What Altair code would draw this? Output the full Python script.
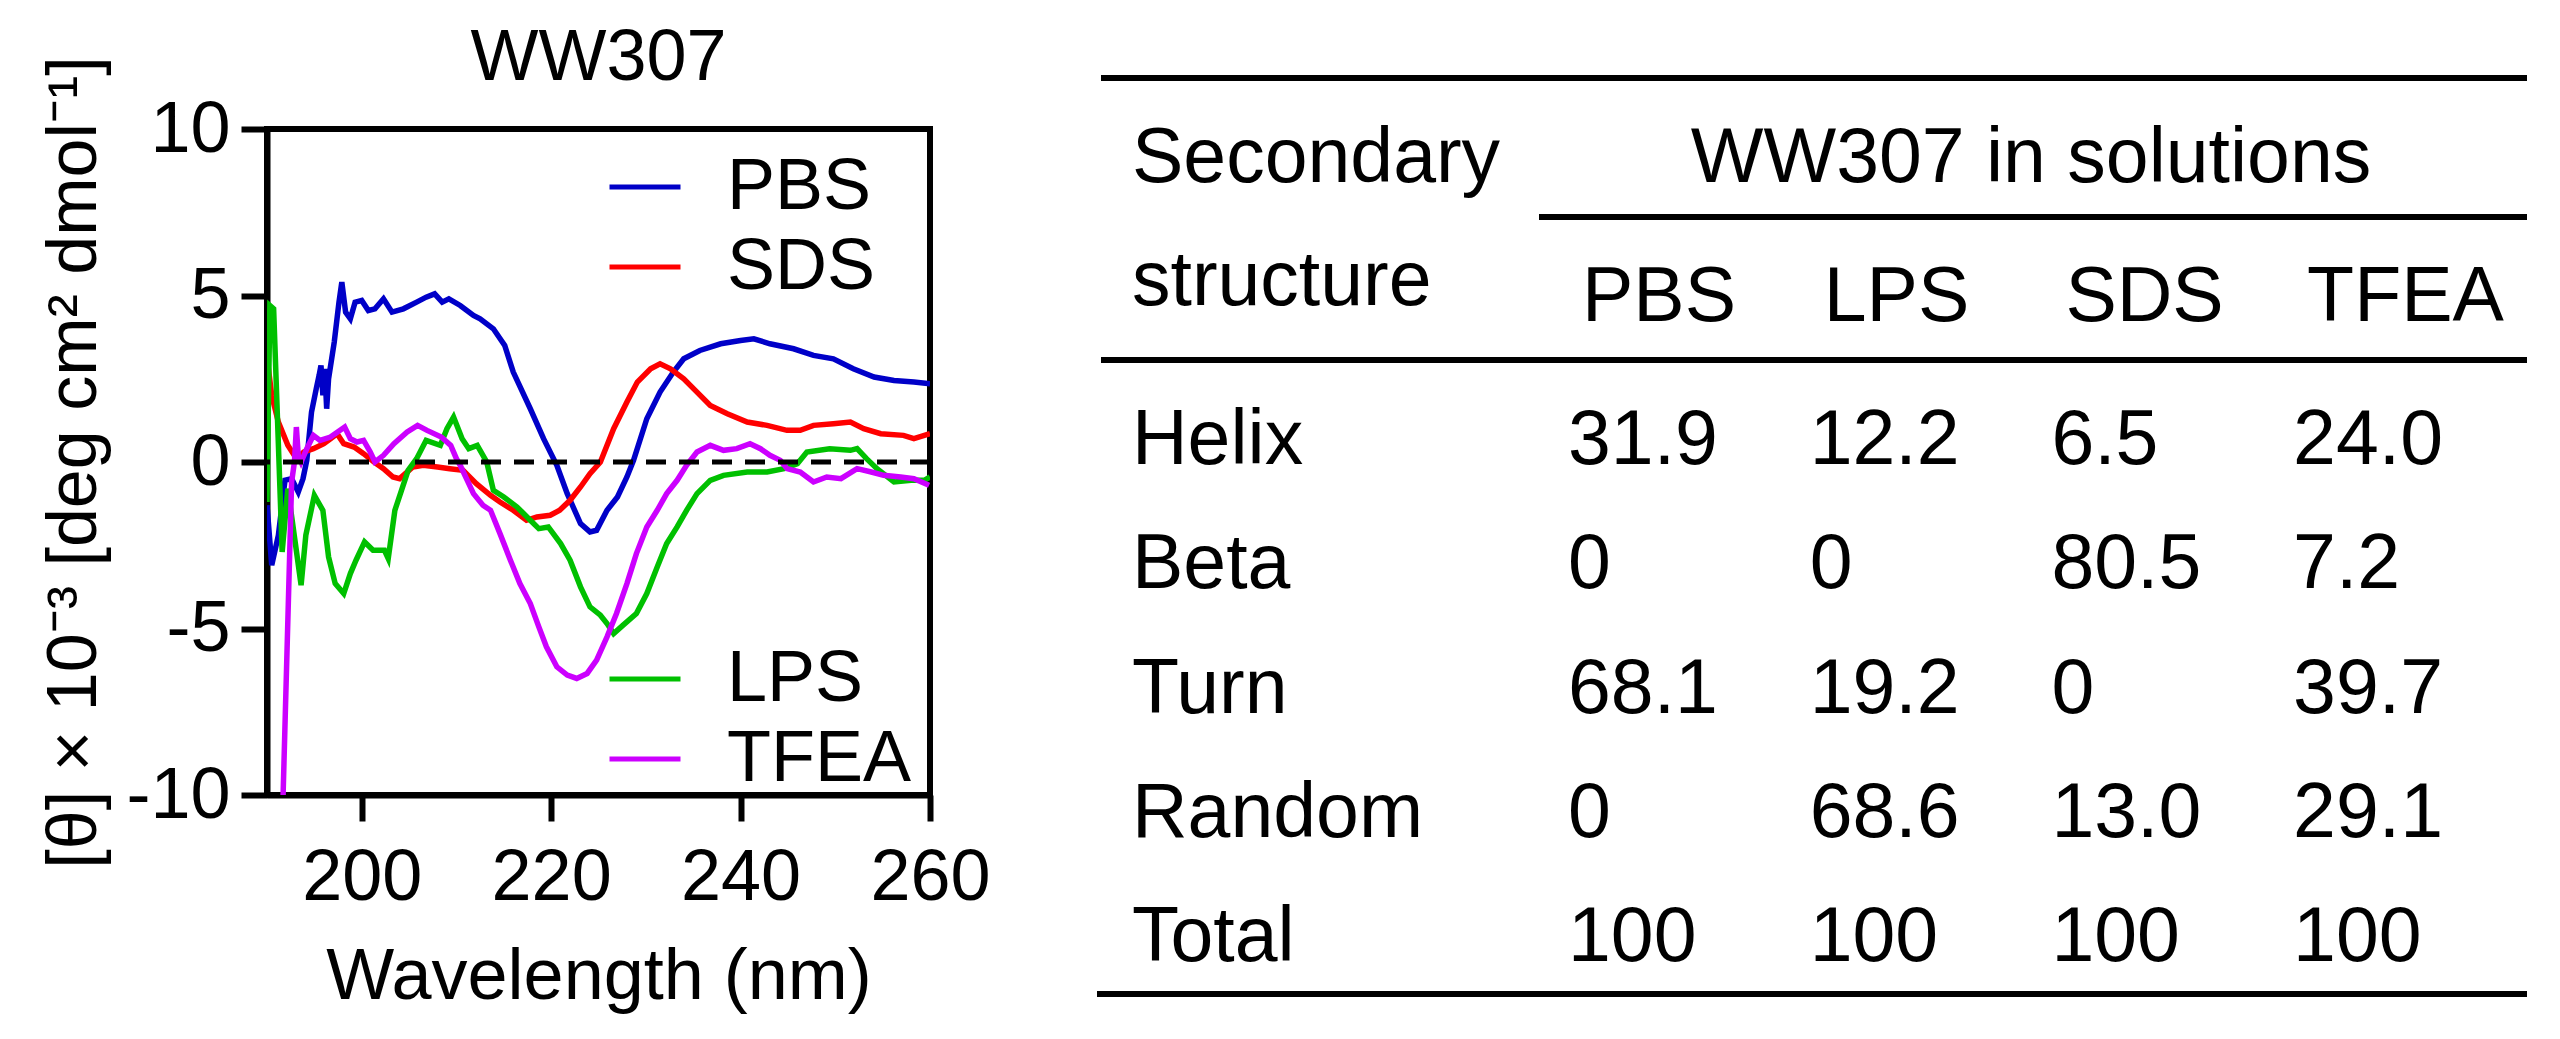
import altair as alt
import pandas as pd

# CD spectra: wavelength (nm) and [theta] x 10^-3
pbs_nm = [190.0, 190.5, 191.2, 191.9, 192.6, 193.3, 193.8, 194.2, 194.7, 195.2,
          195.5, 195.7, 195.9, 196.1, 196.3, 196.5, 197.1, 197.6, 197.9, 198.3,
          198.8, 199.3, 200.0, 200.7, 201.4, 202.3, 203.2, 204.4, 205.8, 206.8,
          207.7, 208.5, 209.2, 210.4, 211.8, 212.5, 213.9, 215.1, 216.0, 217.8,
          219.2, 220.6, 221.7, 223.1, 224.1, 224.8, 225.9, 227.0, 228.0, 228.7,
          230.1, 231.5, 232.9, 234.0, 235.7, 237.9, 240.0, 241.4, 243.1, 245.6,
          247.7, 249.8, 251.9, 254.1, 256.2, 258.3, 260.0]
pbs_val = [-1.3, -3.1, -2.2, -0.55, -0.5, -0.9, -0.5, 0.05, 1.5, 2.2,
           2.6, 2.9, 2.0, 2.8, 1.6, 2.5, 3.6, 4.8, 5.4, 4.5,
           4.3, 4.8, 4.85, 4.55, 4.6, 4.9, 4.5, 4.6, 4.8, 4.95,
           5.05, 4.8, 4.9, 4.7, 4.4, 4.3, 4.0, 3.5, 2.7, 1.6,
           0.7, -0.1, -0.95, -1.85, -2.1, -2.05, -1.45, -1.05, -0.45, 0.05,
           1.3, 2.1, 2.7, 3.1, 3.35, 3.55, 3.65, 3.7, 3.55, 3.4,
           3.2, 3.1, 2.8, 2.55, 2.45, 2.4, 2.35]

sds_nm = [190.0, 190.5, 191.2, 192.2, 193.1, 193.9, 194.9, 196.0, 196.7, 197.4,
          198.1, 199.2, 200.2, 201.3, 202.3, 203.3, 204.0, 205.4, 206.5, 208.0,
          209.3, 210.7, 212.1, 213.6, 214.6, 216.0, 217.4, 218.5, 219.9, 220.9,
          222.0, 223.1, 224.1, 225.2, 226.6, 228.0, 229.1, 230.5, 231.5, 232.6,
          234.0, 235.4, 236.8, 238.6, 240.7, 242.8, 244.9, 246.3, 247.7, 249.8,
          251.6, 253.0, 254.8, 257.2, 258.3, 260.0]
sds_val = [3.15, 2.0, 1.2, 0.5, 0.1, 0.3, 0.4, 0.55, 0.7, 0.85,
           0.55, 0.45, 0.25, 0.0, -0.2, -0.45, -0.5, -0.15, -0.1, -0.15,
           -0.2, -0.25, -0.65, -1.0, -1.2, -1.45, -1.75, -1.65, -1.6, -1.45,
           -1.15, -0.75, -0.35, 0.0, 1.0, 1.8, 2.4, 2.8, 2.95, 2.8,
           2.5, 2.1, 1.7, 1.45, 1.2, 1.1, 0.95, 0.95, 1.1, 1.15,
           1.2, 1.0, 0.85, 0.8, 0.7, 0.85]

lps_nm = [190.0, 190.3, 190.7, 191.6, 192.2, 193.6, 194.1, 195.0, 195.9, 196.5,
          197.2, 198.1, 198.8, 199.4, 200.3, 201.2, 202.4, 202.8, 203.5, 204.2,
          204.9, 205.8, 206.8, 208.3, 209.0, 209.7, 210.6, 211.3, 212.2, 213.2,
          213.9, 215.0, 216.4, 217.8, 218.7, 219.7, 221.0, 222.0, 223.1, 224.1,
          225.2, 225.9, 226.6, 227.6, 229.0, 230.1, 231.2, 232.2, 233.3, 234.3,
          235.4, 236.8, 238.2, 240.7, 242.8, 244.6, 246.0, 247.0, 249.4, 251.6,
          252.3, 253.3, 254.4, 256.2, 258.0, 259.4, 260.0]
lps_val = [-1.2, 4.7, 4.6, -2.7, -0.8, -3.7, -2.2, -1.0, -1.45, -2.85,
           -3.65, -3.95, -3.35, -2.95, -2.4, -2.65, -2.65, -2.9, -1.45, -0.85,
           -0.25, 0.1, 0.65, 0.5, 1.0, 1.35, 0.7, 0.4, 0.5, 0.0,
           -0.85, -1.05, -1.35, -1.75, -2.0, -1.95, -2.45, -2.95, -3.75, -4.35,
           -4.6, -4.85, -5.15, -4.9, -4.55, -3.95, -3.15, -2.45, -1.95, -1.45,
           -0.95, -0.55, -0.4, -0.3, -0.3, -0.2, -0.05, 0.3, 0.4, 0.35,
           0.4, 0.1, -0.2, -0.6, -0.55, -0.55, -0.45]

tfea_nm = [191.7, 192.6, 192.9, 193.1, 193.3, 193.6, 194.2, 194.9, 195.6, 196.7,
           198.2, 198.8, 199.5, 200.2, 200.9, 201.4, 202.3, 203.4, 204.8, 205.9,
           206.9, 208.4, 209.4, 210.0, 210.4, 211.8, 212.8, 213.6, 214.6, 215.7,
           216.7, 217.8, 218.7, 219.5, 220.6, 221.7, 222.7, 223.8, 224.8, 225.9,
           226.9, 228.0, 229.0, 230.1, 231.2, 232.2, 233.3, 234.3, 235.4, 236.8,
           238.2, 239.6, 241.0, 242.1, 243.1, 244.2, 244.9, 246.3, 247.7, 249.1,
           250.6, 252.3, 253.8, 255.1, 256.9, 258.3, 259.9]
tfea_val = [-10.0, -0.6, 0.0, 1.05, 0.2, 0.0, 0.4, 0.8, 0.65, 0.75,
            1.05, 0.7, 0.6, 0.65, 0.3, 0.0, 0.2, 0.55, 0.9, 1.1,
            0.95, 0.75, 0.5, 0.1, -0.1, -0.95, -1.3, -1.45, -2.15, -2.95,
            -3.65, -4.25, -4.95, -5.55, -6.15, -6.4, -6.5, -6.35, -5.95, -5.25,
            -4.55, -3.65, -2.75, -1.95, -1.45, -0.95, -0.55, -0.1, 0.3, 0.5,
            0.35, 0.4, 0.55, 0.4, 0.2, 0.05, -0.2, -0.3, -0.6, -0.45,
            -0.5, -0.2, -0.3, -0.4, -0.45, -0.5, -0.7]

x_ticks = [200, 220, 240, 260]
y_ticks = [-10, -5, 0, 5, 10]

# secondary structure table (%)
solutions = ["PBS", "LPS", "SDS", "TFEA"]
structures = ["Helix", "Beta", "Turn", "Random", "Total"]
helix = ["31.9", "12.2", "6.5", "24.0"]
beta = ["0", "0", "80.5", "7.2"]
turn = ["68.1", "19.2", "0", "39.7"]
random_coil = ["0", "68.6", "13.0", "29.1"]
total = ["100", "100", "100", "100"]

colors = {"PBS": "#0000C8", "SDS": "#FF0000", "LPS": "#00C000", "TFEA": "#CC00FF"}
FONT = "Liberation Sans"


def spectrum(name, nm, val):
    return pd.DataFrame({"nm": nm, "theta": val, "solution": name})


df_top = pd.concat([spectrum("PBS", pbs_nm, pbs_val), spectrum("SDS", sds_nm, sds_val)])
df_bottom = pd.concat([spectrum("LPS", lps_nm, lps_val), spectrum("TFEA", tfea_nm, tfea_val)])

rows = []
for r, (name, vals) in enumerate(zip(structures, [helix, beta, turn, random_coil, total])):
    for c, (sol, v) in enumerate(zip(solutions, vals)):
        rows.append({"structure": name, "solution": sol, "value": v, "row": r, "col": c})
df_cells = pd.DataFrame(rows)
df_rows = pd.DataFrame({"structure": structures, "row": range(len(structures))})
df_cols = pd.DataFrame({"solution": solutions, "col": range(len(solutions))})

x_scale = alt.Scale(domain=[190, 260], nice=False, zero=False)
y_scale = alt.Scale(domain=[-10, 10], nice=False, zero=False)

x_enc = alt.X("nm:Q", scale=x_scale,
              axis=alt.Axis(values=x_ticks, title="Wavelength (nm)"))
# plain hyphen for negative tick labels, as in the original figure
y_enc = alt.Y("theta:Q", scale=y_scale,
              axis=alt.Axis(values=y_ticks, labelExpr="'' + datum.value",
                            title="[θ] × 10⁻³ [deg cm² dmol⁻¹]"))

lines_top = alt.Chart(df_top).mark_line(strokeWidth=5.5, clip=True).encode(
    x=x_enc,
    y=y_enc,
    color=alt.Color("solution:N",
                    scale=alt.Scale(domain=["PBS", "SDS"], range=[colors["PBS"], colors["SDS"]]),
                    legend=alt.Legend(title=None, orient="none", legendX=340, legendY=20)),
)

lines_bottom = alt.Chart(df_bottom).mark_line(strokeWidth=5.5, clip=True).encode(
    x=x_enc,
    y=y_enc,
    stroke=alt.Stroke("solution:N",
                      scale=alt.Scale(domain=["LPS", "TFEA"], range=[colors["LPS"], colors["TFEA"]]),
                      legend=alt.Legend(title=None, orient="none", legendX=340, legendY=512)),
)

# dashed baseline at zero, sharing the y scale (no axis=None so the y axis stays on)
zero_line = alt.Chart(pd.DataFrame({"k": [0]})).mark_rule(
    color="black", strokeWidth=5, strokeDash=[20, 13]
).encode(y=alt.datum(0))

one_row = pd.DataFrame({"k": [0]})


def label(text, x, y, size=77, align="left"):
    return alt.Chart(one_row).mark_text(
        text=text, font=FONT, fontSize=size, align=align, baseline="alphabetic", color="black"
    ).encode(x=alt.value(x), y=alt.value(y))


def hrule(x1, x2, y):
    return alt.Chart(one_row).mark_rule(color="black", strokeWidth=6).encode(
        x=alt.value(x1), x2=alt.value(x2), y=alt.value(y)
    )


# table layout (pixels, relative to the plot's top-left corner)
COL_X0, COL_STEP = 1301, 241.7
ROW_Y0, ROW_STEP = 335, 124.25
text_style = dict(font=FONT, fontSize=77, align="left", baseline="alphabetic", color="black")

cells = alt.Chart(df_cells).mark_text(**text_style).transform_calculate(
    px=f"{COL_X0} + datum.col * {COL_STEP}",
    py=f"{ROW_Y0} + datum.row * {ROW_STEP}",
).encode(
    x=alt.X("px:Q", scale=None, axis=None),
    y=alt.Y("py:Q", scale=None, axis=None),
    text="value:N",
)

row_labels = alt.Chart(df_rows).mark_text(**text_style).transform_calculate(
    py=f"{ROW_Y0} + datum.row * {ROW_STEP}",
).encode(
    x=alt.value(865),
    y=alt.Y("py:Q", scale=None, axis=None),
    text="structure:N",
)

col_heads = alt.Chart(df_cols).mark_text(dx=14, **text_style).transform_calculate(
    px=f"{COL_X0} + datum.col * {COL_STEP}",
).encode(
    x=alt.X("px:Q", scale=None, axis=None),
    y=alt.value(192),
    text="solution:N",
)

chart = alt.layer(
    lines_top,
    lines_bottom,
    zero_line,
    label("WW307", 331.5, -49, size=72, align="center"),
    cells,
    row_labels,
    col_heads,
    label("Secondary", 865, 53),
    label("structure", 865, 176),
    label("WW307 in solutions", 1764, 53, align="center"),
    hrule(834, 2260, -51),
    hrule(1272, 2260, 88),
    hrule(834, 2260, 231),
    hrule(830, 2260, 865),
).properties(
    width=663,
    height=666,
    autosize=alt.AutoSizeParams(type="none"),
    padding={"left": 259, "top": 121, "right": 1622, "bottom": 236},
).configure(
    font=FONT
).configure_view(
    stroke="black", strokeWidth=6
).configure_axis(
    domainColor="black", domainWidth=6,
    tickColor="black", tickWidth=6, tickSize=26,
    labelFont=FONT, labelFontSize=72, labelColor="black",
    labelFlush=False, labelOverlap=False, labelLimit=400,
    titleFont=FONT, titleFontSize=72, titleFontWeight="normal", titleColor="black",
    titleLimit=2000, grid=False,
).configure_axisX(
    labelPadding=21, titlePadding=28
).configure_axisY(
    labelPadding=11, titlePadding=15, titleFontSize=70
).configure_legend(
    labelFont=FONT, labelFontSize=72, labelColor="black", labelLimit=400,
    symbolType="stroke", symbolSize=5041, symbolStrokeWidth=5,
    labelOffset=44, rowPadding=6, padding=0,
)

chart.save("out.html", embed_options={"renderer": "svg", "actions": False})
